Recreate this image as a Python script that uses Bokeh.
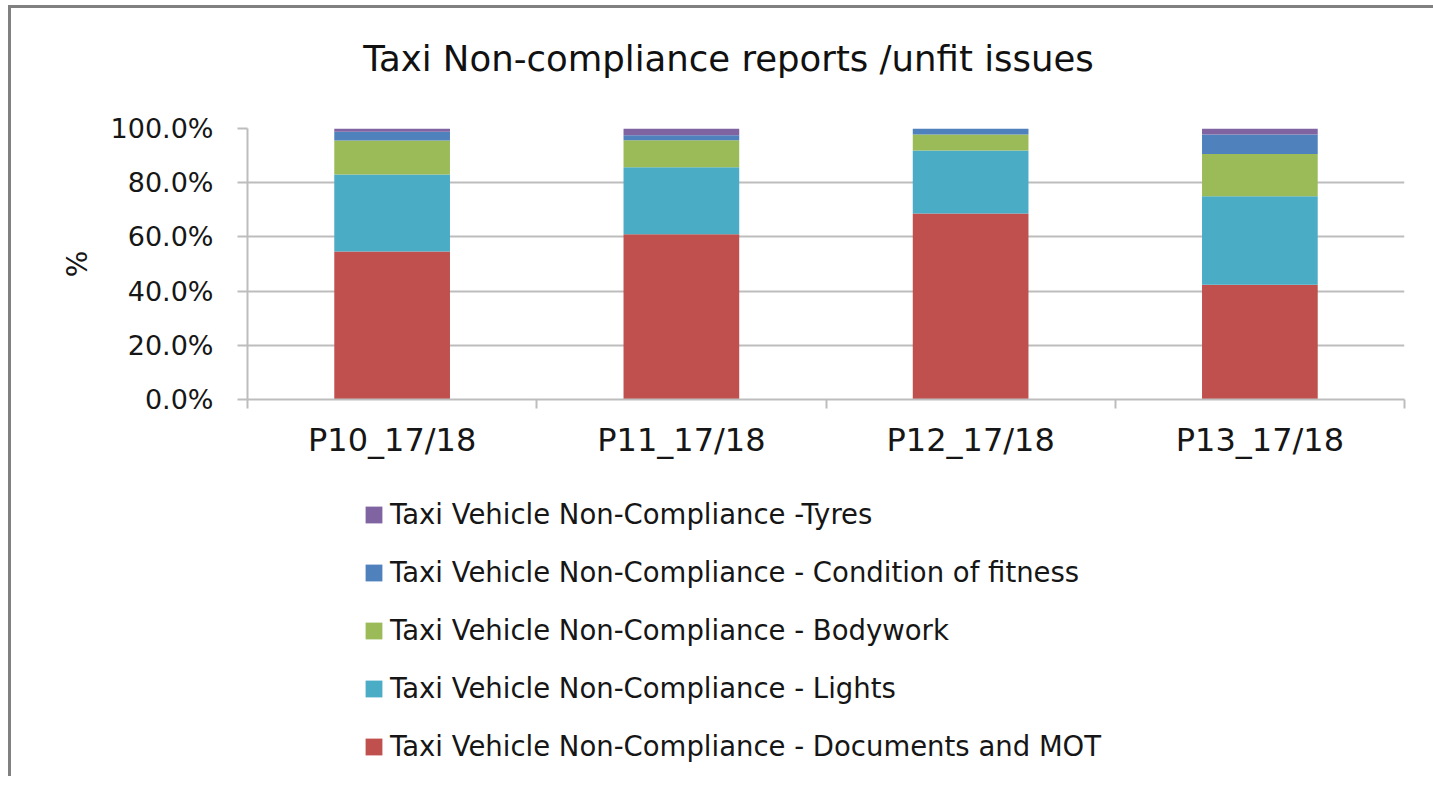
from bokeh.plotting import figure
from bokeh.layouts import column
from bokeh.models import (Legend, LegendItem, FixedTicker, PrintfTickFormatter,
                          Range1d, Div)
from bokeh.embed import file_html
from bokeh.resources import INLINE

# ---- data (percent of reports per period) ----
categories = ["P10_17/18", "P11_17/18", "P12_17/18", "P13_17/18"]
documents_mot = [54.6, 61.0, 68.6, 42.3]
lights = [28.4, 24.7, 23.3, 32.7]
bodywork = [12.6, 10.0, 5.9, 15.6]
condition_fitness = [3.2, 1.8, 2.2, 7.2]
tyres = [1.2, 2.5, 0.0, 2.2]
y_ticks = [0, 20, 40, 60, 80, 100]

series_names = [
    "Taxi Vehicle Non-Compliance - Documents and MOT",
    "Taxi Vehicle Non-Compliance - Lights",
    "Taxi Vehicle Non-Compliance - Bodywork",
    "Taxi Vehicle Non-Compliance - Condition of fitness",
    "Taxi Vehicle Non-Compliance -Tyres",
]
series_values = [documents_mot, lights, bodywork, condition_fitness, tyres]
colors = ["#C0504D", "#4BACC6", "#9BBB59", "#4F81BD", "#8064A2"]
title_text = "Taxi Non-compliance reports /unfit issues"

FONT = "DejaVu Sans"
TEXT = "#161616"
GRID = "#bdbdbd"
W = 1420
LEFT, RIGHT = 236, 27

xs = [i + 0.5 for i in range(len(categories))]
keys = ["s%d" % i for i in range(len(series_values))]
data = {"x": xs}
for k, v in zip(keys, series_values):
    data[k] = v

# ---- title ----
title = Div(text=title_text, width=W, height=80,
            styles={"font-family": FONT, "font-size": "35.5px", "color": "#111111",
                    "line-height": "35px", "padding-top": "28px",
                    "padding-left": "5px", "text-align": "center",
                    "box-sizing": "border-box", "width": "%dpx" % W})

# ---- chart ----
p = figure(width=W, height=382, output_backend="svg", toolbar_location=None,
           x_range=Range1d(0, len(categories)), y_range=Range1d(0, 100),
           min_border_left=LEFT, min_border_right=RIGHT,
           min_border_top=30, min_border_bottom=81)

renderers = p.vbar_stack(keys, x="x", width=0.40, source=data, color=colors,
                         line_color=None)

p.outline_line_color = None
p.xgrid.grid_line_color = None
p.ygrid.grid_line_color = GRID
p.ygrid.grid_line_width = 2
p.ygrid.ticker = FixedTicker(ticks=y_ticks)

p.yaxis.ticker = FixedTicker(ticks=y_ticks)
p.yaxis.formatter = PrintfTickFormatter(format="%.1f%%")
p.yaxis.axis_line_color = GRID
p.yaxis.axis_line_width = 2
p.yaxis.major_tick_line_color = GRID
p.yaxis.major_tick_line_width = 2
p.yaxis.major_tick_out = 10
p.yaxis.major_tick_in = 0
p.yaxis.minor_tick_line_color = None
p.yaxis.major_label_standoff = 24
p.yaxis.major_label_text_font = FONT
p.yaxis.major_label_text_font_size = "27px"
p.yaxis.major_label_text_color = TEXT
p.yaxis.axis_label = "%"
p.yaxis.axis_label_text_font = FONT
p.yaxis.axis_label_text_font_size = "28px"
p.yaxis.axis_label_text_font_style = "normal"
p.yaxis.axis_label_text_color = TEXT
p.yaxis.axis_label_standoff = 14

p.xaxis.ticker = FixedTicker(ticks=xs, minor_ticks=list(range(len(categories) + 1)))
p.xaxis.major_label_overrides = {x: c for x, c in zip(xs, categories)}
p.xaxis.axis_line_color = GRID
p.xaxis.axis_line_width = 2
p.xaxis.major_tick_line_color = None
p.xaxis.major_tick_out = 0
p.xaxis.major_tick_in = 0
p.xaxis.minor_tick_line_color = GRID
p.xaxis.minor_tick_line_width = 2
p.xaxis.minor_tick_out = 9
p.xaxis.minor_tick_in = 0
p.xaxis.major_label_standoff = 12
p.xaxis.major_label_text_font = FONT
p.xaxis.major_label_text_font_size = "32px"
p.xaxis.major_label_text_color = TEXT

# ---- legend panel (Tyres at top, Documents at bottom) ----
q = figure(width=W, height=296, output_backend="svg", toolbar_location=None,
           x_axis_location=None, y_axis_location=None,
           min_border_left=LEFT, min_border_right=RIGHT, min_border_top=18,
           min_border_bottom=0, x_range=Range1d(0, 4), y_range=Range1d(0, 100))
q.outline_line_color = None
q.grid.visible = False
legend_renderers = q.vbar_stack(keys, x="x", width=0.40, source=data,
                                color=colors, line_color=None, visible=False)
items = [LegendItem(label=n, renderers=[r])
         for n, r in zip(series_names, legend_renderers)][::-1]
legend = Legend(items=items, location=(116, 14), orientation="vertical",
                padding=0, margin=0, spacing=26, label_height=32,
                glyph_width=21, glyph_height=21, label_standoff=6,
                label_text_font=FONT, label_text_font_size="27.5px",
                label_text_color=TEXT, border_line_color=None,
                background_fill_alpha=0, inactive_fill_alpha=0)
q.add_layout(legend)

layout = column(title, p, q, spacing=0,
                styles={"border-top": "3px solid #808080",
                        "border-left": "3px solid #808080",
                        "margin-left": "8px", "margin-top": "5px"})
open("out.html", "w").write(file_html(layout, INLINE))
